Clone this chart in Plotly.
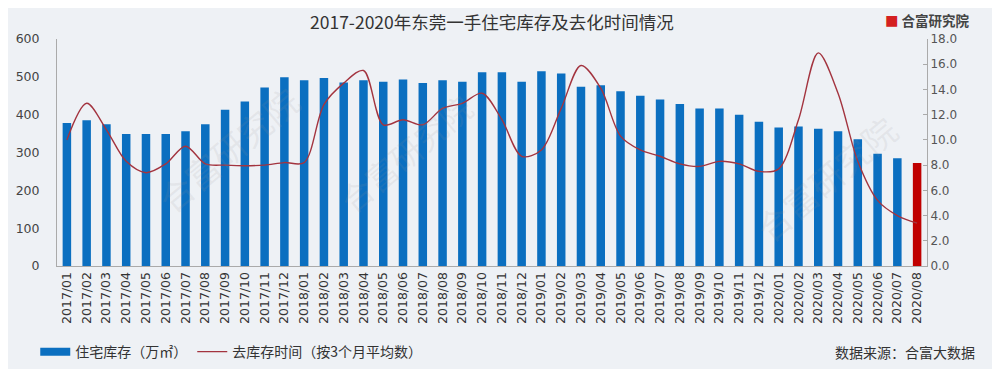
import plotly.graph_objects as go

months = [f"{y}/{m:02d}" for y in (2017, 2018, 2019) for m in range(1, 13)] + [f"2020/{m:02d}" for m in range(1, 9)]

inventory = [378, 385, 375, 349, 349, 349, 356, 375, 413, 435, 472, 499,
             491, 497, 485, 491, 487, 493, 484, 491, 487, 512, 512, 487,
             515, 509, 474, 478, 462, 450, 440, 428, 416, 416, 400, 381,
             366, 369, 363, 356, 335, 297, 285, 272]

months_to_clear = [10.0, 12.9, 10.8, 8.3, 7.4, 8.1, 9.5, 8.1, 8.0, 7.95, 8.0, 8.2,
                   8.2, 12.8, 14.5, 15.5, 11.2, 11.6, 11.2, 12.5, 12.9, 13.7, 11.6, 8.7,
                   9.2, 12.5, 15.9, 14.1, 10.3, 9.2, 8.7, 8.1, 7.9, 8.3, 8.1, 7.5,
                   7.7, 11.6, 16.9, 13.7, 8.3, 5.2, 4.0, 3.4]

left_ticks = [0, 100, 200, 300, 400, 500, 600]
right_ticks = [0, 2, 4, 6, 8, 10, 12, 14, 16, 18]

BLUE = "#0b6fc0"
RED = "#c00000"
LINE = "#a3343f"
FONT = "Noto Sans CJK SC"
NUMFONT = "DejaVu Sans"

bar_colors = [BLUE] * (len(months) - 1) + [RED]

fig = go.Figure()
# legend proxy for the blue bar swatch (wide rectangle like the reference)
fig.add_trace(go.Scatter(x=[None], y=[None], name="住宅库存（万㎡）", mode="lines",
                         line=dict(color=BLUE, width=8), showlegend=True))
fig.add_trace(go.Bar(
    x=months, y=inventory, name="住宅库存（万㎡）", showlegend=False,
    marker=dict(color=bar_colors, line=dict(width=0)),
    width=0.43, yaxis="y",
))
fig.add_trace(go.Scatter(
    x=months, y=months_to_clear, name="去库存时间（按3个月平均数）",
    mode="lines", line=dict(color=LINE, width=1.4, shape="spline", smoothing=0.9),
    yaxis="y2",
))

annotations = [
    dict(text="2017-2020年东莞一手住宅库存及去化时间情况", x=0.5, y=1.0, xref="paper", yref="paper",
         yanchor="middle", yshift=18, showarrow=False,
         font=dict(size=17.5, color="#333333", family=FONT)),
    dict(text="<span style='color:#d42020'>■</span> 合富研究院",
         x=1.0 + 45 / 870, y=1.0, xref="paper", yref="paper", xanchor="right", yanchor="middle",
         yshift=19, showarrow=False, font=dict(size=13.5, color="#444444", family=FONT, weight=600)),
    dict(text="数据来源：合富大数据", xref="paper", yref="paper",
         x=1.0 + 50 / 870, y=-0.379, xanchor="right", yanchor="middle",
         showarrow=False, font=dict(size=14, color="#333333", family=FONT)),
]

# faint watermarks
for (wx, wy, ang, sz) in [(0.1, 0.85, -40, 34), (0.4, 0.5, -40, 32), (0.98, 0.05, -40, 34)]:
    annotations.append(dict(text="合富研究院", xref="paper", yref="paper", x=wx, y=wy,
                            showarrow=False, textangle=ang,
                            font=dict(size=sz, color="rgba(150,150,150,0.13)", family=FONT)))

# page body has an 8px default margin, so the figure is sized/offset to compensate
fig.update_layout(
    width=992, height=361,
    margin=dict(l=49, r=73, t=31, b=103, autoexpand=False),
    paper_bgcolor="#eef1f5", plot_bgcolor="#eef1f5",
    font=dict(family=FONT, color="#444444", size=12),
    showlegend=True,
    legend=dict(orientation="h", x=-0.025, y=-0.379, xanchor="left", yanchor="middle",
                font=dict(size=14, color="#333333", family=FONT),
                bgcolor="rgba(0,0,0,0)", tracegroupgap=0),
    xaxis=dict(type="category", tickangle=-90, showgrid=False, showline=True,
               linecolor="#aaaaaa", linewidth=1, ticks="", automargin=False,
               tickfont=dict(size=12.5, color="#333333", family=NUMFONT),
               range=[-0.5, len(months) - 0.5]),
    yaxis=dict(range=[0, 600], tickvals=left_ticks, showgrid=False, zeroline=False,
               showline=True, linecolor="#aaaaaa", linewidth=1, automargin=False,
               ticks="outside", ticklen=14, tickcolor="rgba(0,0,0,0)",
               tickfont=dict(size=12.5, color="#444444", family=NUMFONT)),
    yaxis2=dict(range=[0, 18], tickvals=right_ticks, tickformat=".1f", overlaying="y", side="right",
                showgrid=False, zeroline=False, showline=True, linecolor="#aaaaaa", linewidth=1,
                ticks="inside", ticklen=4, tickcolor="#aaaaaa", automargin=False,
                tickfont=dict(size=12, color="#555555", family=NUMFONT)),
    annotations=annotations,
)

fig.write_html("out.html")
